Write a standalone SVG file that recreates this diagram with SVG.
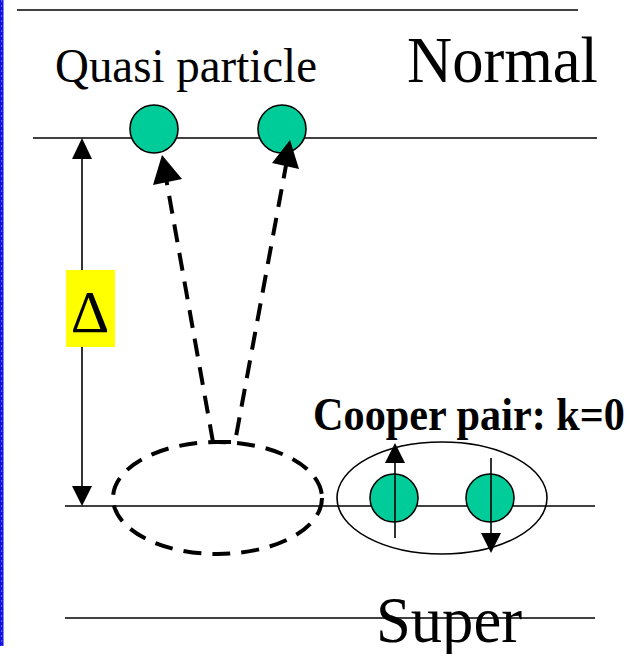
<svg xmlns="http://www.w3.org/2000/svg" width="641" height="654" viewBox="0 0 641 654">
<style>
.ln{stroke:#000;stroke-width:1.6;fill:none}
.dash{stroke:#000;stroke-width:4;fill:none;stroke-dasharray:18 11}
.ball{fill:#00cc99;stroke:#000;stroke-width:1.6}
.head{fill:#000}
.t{font-family:"Liberation Serif","Times New Roman",serif;fill:#000}
</style>
<rect width="641" height="654" fill="#fff"/>
<g id="border">
<rect x="0" y="0" width="3.5" height="646" fill="#1010e0"/>
<line x1="1.7" y1="0" x2="1.7" y2="646" stroke="#6a6aff" stroke-width="1" stroke-dasharray="2 3"/>
</g>
<g id="levels">
<line class="ln" x1="17" y1="10" x2="578" y2="10"/>
<line class="ln" x1="33" y1="138" x2="597" y2="138"/>
<line class="ln" x1="65" y1="506" x2="595" y2="506"/>
<line class="ln" x1="65" y1="618" x2="595" y2="618"/>
</g>
<g id="gap-arrow">
<line class="ln" x1="82" y1="156" x2="82" y2="488"/>
<polygon class="head" points="82,138 72,159 92,159"/>
<polygon class="head" points="82,506 72,486 92,486"/>
</g>
<g id="delta">
<rect x="66" y="270" width="49" height="77" fill="#ffff00"/>
<text class="t" x="90" y="332" font-size="60" text-anchor="middle">Δ</text>
</g>
<g id="quasi-label">
<text class="t" x="55" y="82" font-size="48" textLength="262" lengthAdjust="spacingAndGlyphs">Quasi particle</text>
</g>
<g id="normal-label">
<text class="t" x="407" y="82" font-size="65" textLength="191" lengthAdjust="spacingAndGlyphs">Normal</text>
</g>
<g id="super-label">
<text class="t" x="376" y="642" font-size="65" textLength="146" lengthAdjust="spacingAndGlyphs">Super</text>
</g>
<g id="cooper-label">
<text class="t" x="313" y="430" font-size="46" font-weight="bold" textLength="312" lengthAdjust="spacingAndGlyphs">Cooper pair: k=0</text>
</g>
<g id="quasi-particles">
<circle class="ball" cx="154" cy="129" r="24"/>
<circle class="ball" cx="282" cy="129" r="24"/>
</g>
<g id="connectors">
<path class="dash" d="M213,442 L166,178"/>
<path class="dash" d="M213,442 L235,442 L287,160"/>
<polygon class="head" points="162,155 153,185 182,179"/>
<polygon class="head" points="290,140 272,163 299,169"/>
</g>
<g id="broken-pair">
<ellipse class="dash" cx="217.5" cy="498" rx="104.5" ry="56"/>
</g>
<g id="cooper-pair">
<ellipse cx="442" cy="498" rx="105" ry="56" fill="none" stroke="#000" stroke-width="1.6"/>
<circle class="ball" cx="394" cy="498" r="24"/>
<circle class="ball" cx="490" cy="498" r="24"/>
<line class="ln" x1="395" y1="538" x2="395" y2="460"/>
<polygon class="head" points="395,443 385,463 405,463"/>
<line class="ln" x1="491" y1="458" x2="491" y2="536"/>
<polygon class="head" points="491,553 481,533 501,533"/>
</g>
</svg>
